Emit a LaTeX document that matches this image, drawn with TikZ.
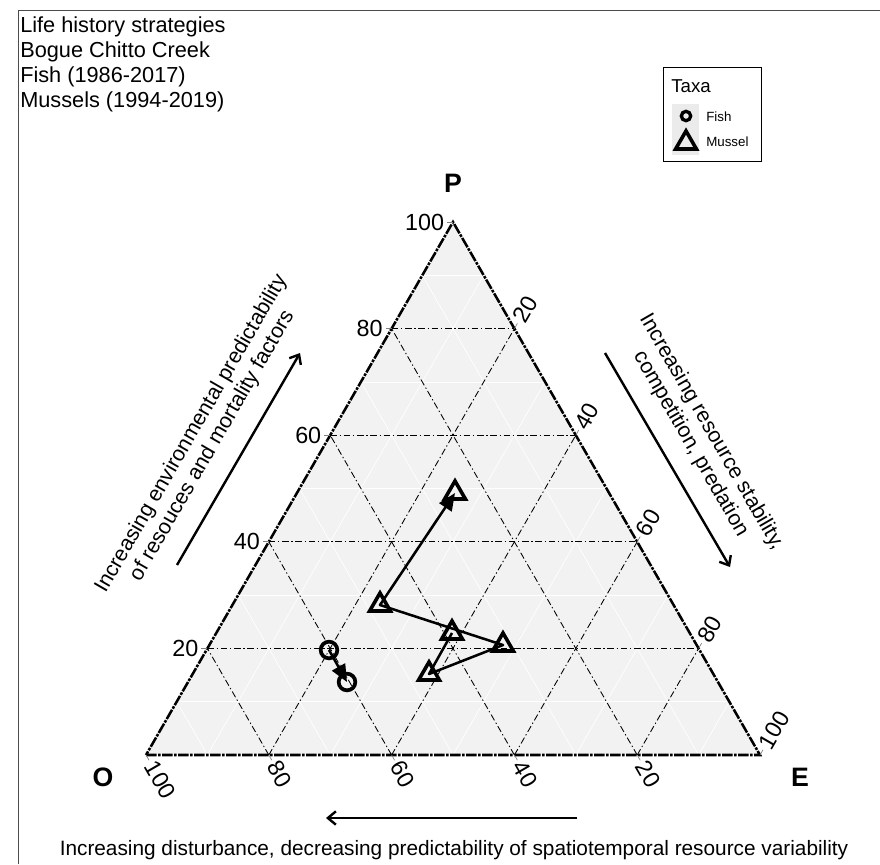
\documentclass[tikz,border=0pt]{standalone}
\usepackage{fontspec}
\setmainfont{Liberation Sans}
\usetikzlibrary{arrows.meta, shapes.geometric, positioning}
\definecolor{panelgray}{RGB}{242,242,242}
\definecolor{keygray}{RGB}{235,235,235}

\begin{document}
\begin{tikzpicture}[
  x=0.75pt, y=-0.75pt,
  >=Latex,
  edge/.style={line width=1.9pt, dash pattern=on 8pt off 1pt on 2pt off 1pt},
  major/.style={line width=0.65pt, dash pattern=on 5pt off 2pt on 1pt off 2pt},
  minor/.style={white, line width=0.5pt},
  tick/.style={gray, line width=0.5pt},
  ticklabel/.style={text=black, font=\fontsize{17.5}{20}\selectfont, inner sep=1pt},
  vertex/.style={font=\fontsize{20}{24}\selectfont\bfseries},
  fish/.style={circle, draw, line width=2.8pt, minimum size=12.5pt, inner sep=0pt},
  keyfish/.style={circle, draw, line width=2.5pt, minimum size=7pt, inner sep=0pt},
  mussel/.style={regular polygon, regular polygon sides=3, draw, line width=2.7pt, minimum size=18pt, inner sep=0pt},
  trajectory/.style={line width=1.9pt, line join=round, -{Triangle[length=13pt, width=11pt]}},
  guide/.style={line width=1.8pt, -{Straight Barb[length=6pt, width=10pt]}},
  axistext/.style={font=\fontsize{16}{18}\selectfont, align=center}
]
\useasboundingbox (0,0) rectangle (880,864);

% plot frame
\draw[gray!60!black, line width=0.6pt] (18,864) -- (18,10) -- (880,10);

\node[anchor=north west, align=left, inner sep=0pt,
      font=\fontsize{16.3}{18.75}\selectfont] (title) at (20,16)
  {Life history strategies\\Bogue Chitto Creek\\Fish (1986-2017)\\Mussels (1994-2019)};

% ternary frame
\coordinate (vO) at (146,755);
\coordinate (vE) at (760,755);
\coordinate (vP) at (453,222);

\fill[panelgray] (vO) -- (vE) -- (vP) -- cycle;

\foreach \k/\j in {0.1/0.9, 0.3/0.7, 0.5/0.5, 0.7/0.3, 0.9/0.1} {
  \draw[minor] (barycentric cs:vP=\k,vO=\j) -- (barycentric cs:vP=\k,vE=\j);
  \draw[minor] (barycentric cs:vE=\k,vO=\j) -- (barycentric cs:vE=\k,vP=\j);
  \draw[minor] (barycentric cs:vO=\k,vE=\j) -- (barycentric cs:vO=\k,vP=\j);
}
\foreach \k/\j in {0.2/0.8, 0.4/0.6, 0.6/0.4, 0.8/0.2} {
  \draw[major] (barycentric cs:vP=\k,vO=\j) -- (barycentric cs:vP=\k,vE=\j);
  \draw[major] (barycentric cs:vE=\k,vO=\j) -- (barycentric cs:vE=\k,vP=\j);
  \draw[major] (barycentric cs:vO=\k,vE=\j) -- (barycentric cs:vO=\k,vP=\j);
}

\draw[edge] (vO) -- (vE) -- (vP) -- cycle;

% axis ticks and labels
\foreach \n/\k/\j in {20/0.2/0.8, 40/0.4/0.6, 60/0.6/0.4, 80/0.8/0.2, 100/1/0} {
  \draw[tick] (barycentric cs:vP=\k,vO=\j) -- ++(-6,0)
    node[ticklabel, anchor=east, inner xsep=2pt] (pl\n) {\n};
  \draw[tick] (barycentric cs:vE=\k,vP=\j) -- ++(3,-5.2)
    node[ticklabel, anchor=west, rotate=60, inner xsep=2pt] (el\n) {\n};
  \draw[tick] (barycentric cs:vO=\k,vE=\j) -- ++(3,5.2)
    node[ticklabel, anchor=west, rotate=-60, inner xsep=2pt] (ol\n) {\n};
}

\node[vertex] (labP) at (453,183) {P};
\node[vertex] (labO) at (103,777) {O};
\node[vertex] (labE) at (800,777) {E};

% trajectories
\node[fish] (f1) at (329,650) {};
\node[fish] (f2) at (347,682) {};

\node[mussel] (m1) at (452,633) {};
\node[mussel] (m2) at (429,674) {};
\node[mussel] (m3) at (503,645) {};
\node[mussel] (m4) at (380,605) {};
\node[mussel] (m5) at (455,493) {};

\draw[trajectory] (f1.center) -- (f2.center);
\draw[trajectory] (m1.center) -- (m2.center) -- (m3.center) -- (m4.center) -- (m5.center);

% gradient arrows
\coordinate (lefttail) at (177,565);
\coordinate (lefthead) at (300,353);
\draw[guide] (lefttail) -- (lefthead);
\node[axistext, rotate=60] (lefttext) at (202,440)
  {Increasing environmental predictability\\of resouces and mortality factors};

\coordinate (righttail) at (605,353);
\coordinate (righthead) at (730,567);
\draw[guide] (righttail) -- (righthead);
\node[axistext, rotate=-60] (righttext) at (701,438)
  {Increasing resource stability,\\competition, predation};

\coordinate (bottomtail) at (577,818);
\coordinate (bottomhead) at (326,818);
\draw[guide] (bottomtail) -- (bottomhead);
\node[axistext, font=\fontsize{15.6}{18}\selectfont] (bottomtext) at (454,850)
  {Increasing disturbance, decreasing predictability of spatiotemporal resource variability};

% legend
\node[draw, line width=0.6pt, minimum width=73.5pt, minimum height=71pt] (legend) at (712,114.5) {};
\node[fill=keygray, minimum width=20pt, minimum height=38pt, inner sep=0pt] (keybg) at (685.5,129.5) {};
\node[anchor=west, inner sep=0pt, font=\fontsize{14}{16}\selectfont] (taxa) at (671,86) {Taxa};
\node[keyfish] (keyf) at (686,116) {};
\node[mussel] (keym) at (686,143) {};
\node[anchor=west, inner sep=0pt, font=\fontsize{10}{12}\selectfont] (fishtext) at (706,117) {Fish};
\node[anchor=west, inner sep=0pt, font=\fontsize{10}{12}\selectfont] (musseltext) at (706,142) {Mussel};

\end{tikzpicture}
\end{document}
